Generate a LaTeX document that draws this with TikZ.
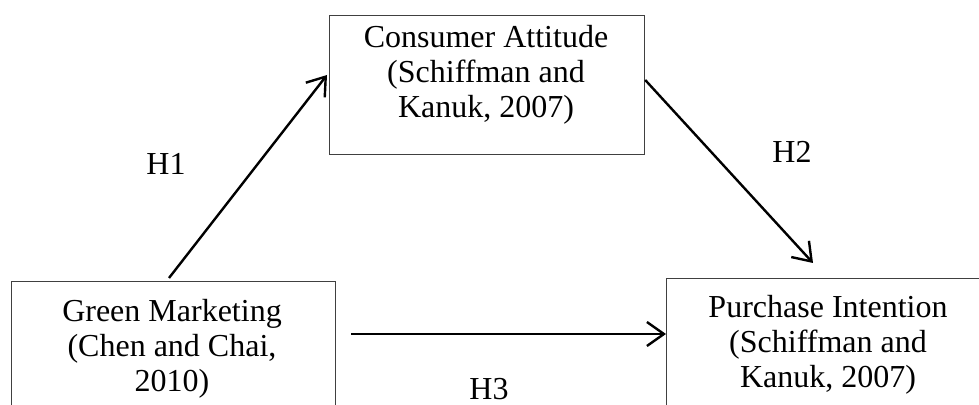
\documentclass[tikz,border=0pt]{standalone}
\usepackage{fontspec}
\setmainfont{Liberation Serif}
\usetikzlibrary{arrows.meta,calc}
\begin{document}
\begin{tikzpicture}[x=0.5pt,y=-0.5pt,
  boxnode/.style={draw=black!75,line width=0.6pt,rectangle,inner sep=0pt,anchor=north west},
  txt/.style={align=center,inner sep=0pt,anchor=north,font=\fontsize{16pt}{17.5pt}\selectfont},
  lbl/.style={inner sep=0pt,font=\fontsize{16pt}{17.5pt}\selectfont},
  arr/.style={line width=1.2pt,-{Straight Barb[length=8.5pt,width=12pt,line width=1.2pt]}}]
\useasboundingbox (0,0) rectangle (979,405);
\node[boxnode,minimum width=157.5pt,minimum height=69.5pt] (ca) at (329,15) {};
\node[boxnode,minimum width=162pt,minimum height=69.5pt] (gm) at (11,281) {};
\node[boxnode,minimum width=167pt,minimum height=69.5pt] (pi) at (666,278) {};
\node[txt] (cat) at (486,25) {Consumer Attitude\\(Schiffman and\\Kanuk, 2007)};
\node[txt] (gmt) at (172,299) {Green Marketing\\(Chen and Chai,\\2010)};
\node[txt] (pit) at (828,295) {Purchase Intention\\(Schiffman and\\Kanuk, 2007)};
\coordinate (h1s) at ($(gm.north west)+(158,-3)$);
\coordinate (h1e) at ($(ca.north west)+(-2,60)$);
\coordinate (h2s) at ($(ca.north east)+(0,65)$);
\coordinate (h2e) at ($(pi.north west)+(147,-15)$);
\coordinate (h3s) at ($(gm.north east)+(15,53)$);
\coordinate (h3e) at ($(pi.north west)+(0,56)$);
\draw[arr] (h1s) -- (h1e);
\draw[arr] (h2s) -- (h2e);
\draw[arr] (h3s) -- (h3e);
\node[lbl] (l1) at (166,164) {H1};
\node[lbl] (l2) at (792,152) {H2};
\node[lbl] (l3) at (489,389) {H3};
\end{tikzpicture}
\end{document}
